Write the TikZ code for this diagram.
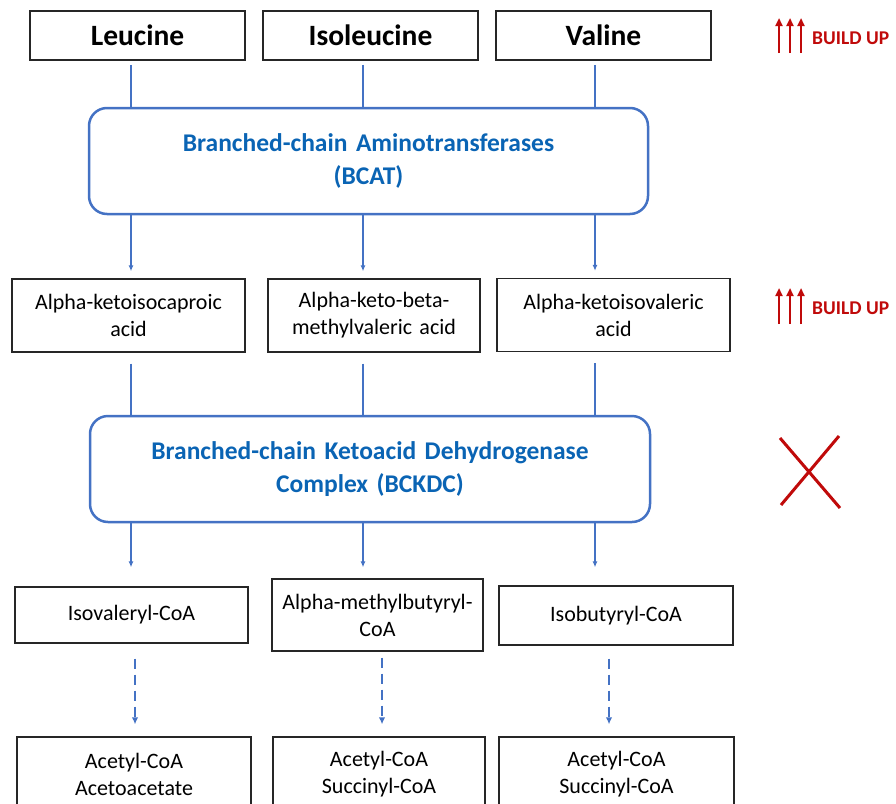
\documentclass[tikz,border=0pt]{standalone}
\usepackage{fontspec}
\setmainfont{Carlito}
\usetikzlibrary{arrows.meta, positioning, calc}
\definecolor{myblue}{RGB}{68,114,196}
\definecolor{txtblue}{RGB}{10,100,180}
\definecolor{myred}{RGB}{192,10,10}
\definecolor{boxgray}{RGB}{38,38,38}
\tikzset{
  aminobox/.style={rectangle, draw=boxgray, line width=1.5pt, inner sep=0pt,
    align=center, font=\fontsize{29.5}{34}\selectfont\bfseries},
  metabox/.style={rectangle, draw=boxgray, line width=1.3pt, inner sep=0pt,
    align=center, font=\fontsize{22}{27}\selectfont},
  enzyme/.style={rectangle, rounded corners=18pt, draw=myblue, line width=2.5pt,
    inner sep=0pt, align=center, text=txtblue, font=\fontsize{25.5}{33.5}\selectfont\bfseries},
  link/.style={color=myblue, line width=1.3pt},
  arrow/.style={-{Latex[length=6pt,width=5pt]}, color=myblue, line width=1.3pt},
  dasharrow/.style={-{Latex[length=7pt,width=6.5pt]}, color=myblue, line width=2.2pt,
    dash pattern=on 10pt off 6pt}
}

\begin{document}
\begin{tikzpicture}[x=1pt, y=-1pt,
  buildtxt/.style={font=\fontsize{19.5}{22}\selectfont\bfseries, text=myred, inner sep=0pt},
  uparrow/.style={-{Triangle[length=8pt,width=7pt]}, color=myred, line width=2.3pt},
  cross/.style={color=myred, line width=3pt}]

  \clip (0,0) rectangle (896,803);

  % Columns
  \coordinate (c1) at (131,0);
  \coordinate (c2) at (363,0);
  \coordinate (c3) at (595,0);
  \coordinate (d1) at (135,0);
  \coordinate (d2) at (382,0);
  \coordinate (d3) at (609,0);

  % Amino acids
  \node[aminobox, text width=215pt, minimum height=49pt] (leu) at (137.5,35.5) {Leucine};
  \node[aminobox, text width=215pt, minimum height=49pt] (ile) at (370.5,35.5) {Isoleucine};
  \node[aminobox, text width=215pt, minimum height=49pt] (val) at (603.5,35.5) {Valine};

  % Enzymes
  \node[enzyme, text width=559pt, minimum height=106pt] (bcat) at (368.5,161)
    {Branched-chain Aminotransferases\\(BCAT)};
  \node[enzyme, text width=560pt, minimum height=106pt] (bckdc) at (370,469)
    {Branched-chain Ketoacid Dehydrogenase\\Complex (BCKDC)};

  % Ketoacids
  \node[metabox, text width=233pt, minimum height=73pt] (kic) at (128.5,315.5) {Alpha-ketoisocaproic\\acid};
  \node[metabox, text width=212pt, minimum height=73pt] (kmv) at (374,315.5) {Alpha-keto-beta-\\methylvaleric acid};
  \node[metabox, text width=233pt, minimum height=73pt] (kiv) at (613.5,315) {Alpha-ketoisovaleric\\acid};

  % Acyl-CoA
  \node[metabox, text width=233pt, minimum height=56pt] (ivc) at (131.5,615) {Isovaleryl-CoA};
  \node[metabox, text width=211pt, minimum height=72pt] (mbc) at (377.5,615) {Alpha-methylbutyryl-\\CoA};
  \node[metabox, text width=234pt, minimum height=59pt] (ibc) at (616,615.5) {Isobutyryl-CoA};

  % End products
  \node[metabox, text width=234pt, minimum height=74pt] (pl) at (134,774) {Acetyl-CoA\\Acetoacetate};
  \node[metabox, text width=212pt, minimum height=74pt] (pm) at (379,774) {Acetyl-CoA\\Succinyl-CoA};
  \node[metabox, text width=235pt, minimum height=74pt] (pr) at (616.5,774) {Acetyl-CoA\\Succinyl-CoA};

  % Connections
  \draw[link, shorten <=4pt] (leu.south -| c1) -- (bcat.north -| c1);
  \draw[link, shorten <=4pt] (ile.south -| c2) -- (bcat.north -| c2);
  \draw[link, shorten <=4pt] (val.south -| c3) -- (bcat.north -| c3);
  \draw[arrow, shorten >=7pt] (bcat.south -| c1) -- (kic.north -| c1);
  \draw[arrow, shorten >=7pt] (bcat.south -| c2) -- (kmv.north -| c2);
  \draw[arrow, shorten >=7pt] (bcat.south -| c3) -- (kiv.north -| c3);
  \draw[link, shorten <=11pt] (kic.south -| c1) -- (bckdc.north -| c1);
  \draw[link, shorten <=11pt] (kmv.south -| c2) -- (bckdc.north -| c2);
  \draw[link, shorten <=11pt] (kiv.south -| c3) -- (bckdc.north -| c3);
  \draw[arrow, shorten >=19pt] (bckdc.south -| c1) -- (ivc.north -| c1);
  \draw[arrow, shorten >=11pt] (bckdc.south -| c2) -- (mbc.north -| c2);
  \draw[arrow, shorten >=18pt] (bckdc.south -| c3) -- (ibc.north -| c3);
  \draw[dasharrow, shorten <=15pt, shorten >=12pt] (ivc.south -| d1) -- (pl.north -| d1);
  \draw[dasharrow, shorten <=6pt, shorten >=12pt] (mbc.south -| d2) -- (pm.north -| d2);
  \draw[dasharrow, shorten <=13pt, shorten >=12pt] (ibc.south -| d3) -- (pr.north -| d3);

  % Build up marks
  \node[buildtxt, anchor=west] (bu1) at (812,38) {BUILD UP};
  \node[buildtxt, anchor=west] (bu2) at (812,308) {BUILD UP};
  \foreach \x in {779,790,801} {
    \draw[uparrow] (\x,53) -- (\x,18);
    \draw[uparrow] (\x,324) -- (\x,288);
  }

  % Blocked
  \draw[cross] (780,438) -- (840,508);
  \draw[cross] (839,436) -- (781,505);

\end{tikzpicture}
\end{document}
